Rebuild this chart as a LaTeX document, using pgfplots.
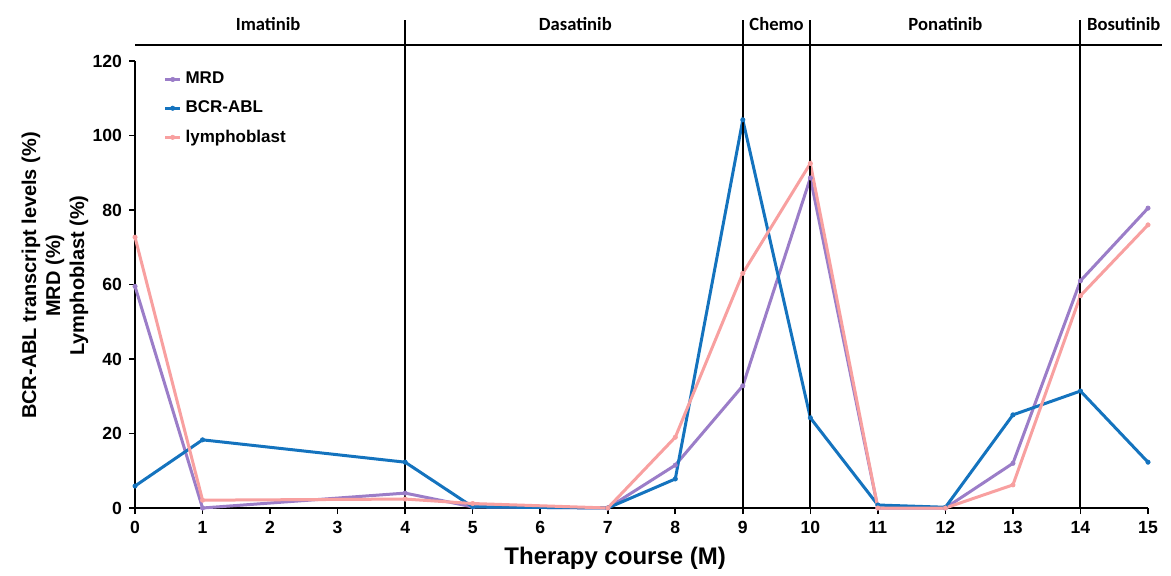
\documentclass[border=0pt]{standalone}
\usepackage{pgfplots}
\pgfplotsset{compat=1.18}
\usepackage{fontspec}
\setmainfont{Liberation Sans}
\newfontfamily\carlito{Carlito}

\definecolor{mrdc}{RGB}{155,125,200}
\definecolor{bcrc}{RGB}{20,115,190}
\definecolor{lymc}{RGB}{248,160,160}

\begin{document}
\begin{tikzpicture}
\begin{axis}[
    width=506.5pt, height=223.5pt,
    scale only axis,
    xmin=0, xmax=15,
    ymin=0, ymax=120,
    clip=false,
    axis x line=bottom,
    axis y line=left,
    axis line style={-, line width=1pt},
    tick align=outside,
    major tick length=3pt,
    tick style={line width=0.8pt, black},
    xtick={0,1,...,15},
    ytick={0,20,...,120},
    /pgf/number format/assume math mode=true,
    ticklabel style={font=\fontsize{8.8}{10}\selectfont\bfseries},
    xlabel={Therapy course (M)},
    xlabel style={font=\fontsize{12}{14}\selectfont\bfseries, at={(axis description cs:0.474,-0.112)}, anchor=center},
    ylabel={BCR-ABL transcript levels (\%)\\MRD (\%)\\Lymphoblast (\%)},
    ylabel style={font=\fontsize{10}{12}\selectfont\bfseries, align=center, at={(axis description cs:-0.079,0.52)}, anchor=center},
    legend style={draw=none, fill=none, at={(axis description cs:0.028,0.985)}, anchor=north west,
        font=\fontsize{8.5}{10}\selectfont\bfseries, row sep=3pt, inner sep=0pt},
    legend cell align=left,
    legend image code/.code={\draw[mark repeat=2,mark phase=2,#1] plot coordinates {(0cm,0cm) (0.13cm,0cm) (0.26cm,0cm)};},
    every axis plot/.append style={line width=1.5pt, mark=*, mark size=1.1pt},
]
\addplot[mrdc, mark options={fill=mrdc, line width=0.3pt}] coordinates {
    (0,59.5) (1,0) (4,4.0) (5,0.3) (7,0) (8,11.5) (9,32.8) (10,88.6)
    (11,0) (12,0) (13,12.0) (14,61.0) (15,80.5)
};
\addlegendentry{MRD}
\addplot[bcrc, mark options={fill=bcrc, line width=0.3pt}] coordinates {
    (0,5.9) (1,18.3) (4,12.3) (5,0.3) (7,0) (8,7.8) (9,104.2) (10,24.2)
    (11,0.8) (12,0.2) (13,25.0) (14,31.4) (15,12.3)
};
\addlegendentry{BCR-ABL}
\addplot[lymc, mark options={fill=lymc, line width=0.3pt}] coordinates {
    (0,72.7) (1,2.1) (4,2.4) (5,1.2) (7,0) (8,19.0) (9,63.0) (10,92.5)
    (11,0) (12,0) (13,6.2) (14,57.0) (15,76.0)
};
\addlegendentry{lymphoblast}

% therapy phases
\draw[black, line width=1pt] (axis cs:0,124.3) -- (axis cs:15.2,124.3);
\pgfplotsinvokeforeach{4,9,10,14}{
    \draw[black, line width=1pt] (axis cs:#1,0) -- (axis cs:#1,131);
}
\tikzset{phase/.style={font=\carlito\fontsize{9.3}{10}\selectfont\bfseries, anchor=center}}
\node[phase] at (axis cs:1.97,129.8) {Imatinib};
\node[phase] at (axis cs:6.52,129.8) {Dasatinib};
\node[phase] at (axis cs:9.5,129.8) {Chemo};
\node[phase] at (axis cs:12.0,129.8) {Ponatinib};
\node[phase] at (axis cs:14.64,129.8) {Bosutinib};
\path (axis description cs:-0.1333,-0.141) rectangle (axis description cs:1.0227,1.1365);
\end{axis}
\end{tikzpicture}
\end{document}
